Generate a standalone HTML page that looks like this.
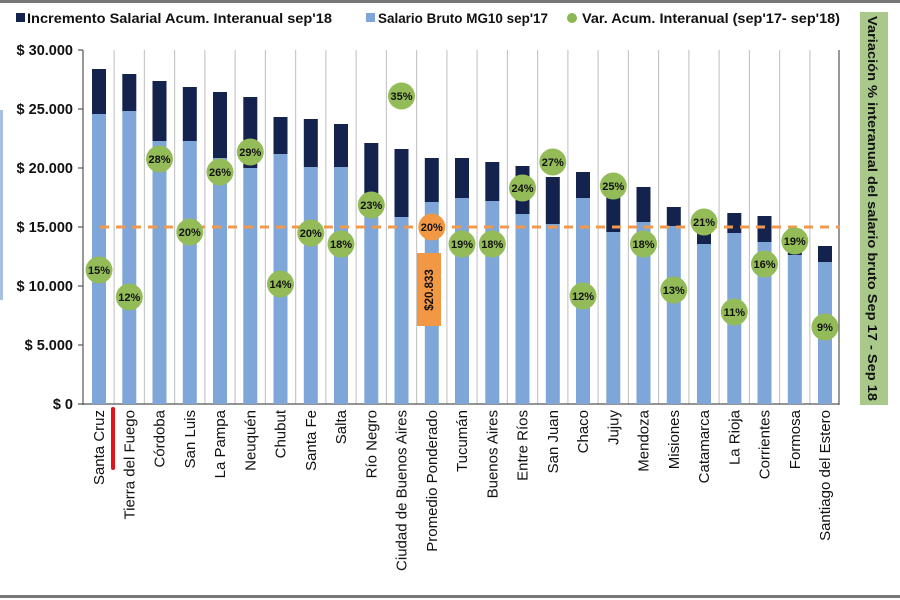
<!DOCTYPE html>
<html><head><meta charset="utf-8"><style>
html,body{margin:0;padding:0;background:#fff;}
svg{display:block;font-family:"Liberation Sans",Arial,sans-serif;}
</style></head><body>
<svg width="900" height="600" viewBox="0 0 900 600" xmlns="http://www.w3.org/2000/svg">
<rect x="0" y="0" width="900" height="600" fill="#fff"/>
<rect x="0" y="0" width="900" height="3" fill="#777"/>
<rect x="0" y="595" width="900" height="3" fill="#777"/>
<rect x="0" y="110" width="3" height="190" fill="#a9c1e0"/>
<!-- legend -->
<rect x="16" y="13" width="9" height="9" fill="#14234e"/>
<text x="27" y="23" font-size="13.5" font-weight="bold" fill="#111" textLength="305" lengthAdjust="spacingAndGlyphs">Incremento Salarial Acum. Interanual sep'18</text>
<rect x="366" y="13" width="9" height="9" fill="#7fa6d8"/>
<text x="378" y="23" font-size="13.5" font-weight="bold" fill="#111" textLength="170" lengthAdjust="spacingAndGlyphs">Salario Bruto MG10 sep'17</text>
<circle cx="572" cy="18" r="5" fill="#8db654"/>
<text x="582" y="23" font-size="13.5" font-weight="bold" fill="#111" textLength="258" lengthAdjust="spacingAndGlyphs">Var. Acum. Interanual (sep'17- sep'18)</text>
<!-- right vertical box -->
<rect x="860" y="12" width="28" height="393" fill="#a9c98a"/>
<text transform="translate(868,16) rotate(90)" font-size="13" font-weight="bold" fill="#111" textLength="385" lengthAdjust="spacingAndGlyphs">Variación % interanual del salario bruto Sep 17 - Sep 18</text>
<!-- y axis labels -->
<g font-size="14.5" fill="#111" text-anchor="end" font-weight="bold">
<text x="73" y="55">$ 30.000</text>
<text x="73" y="114">$ 25.000</text>
<text x="73" y="173">$ 20.000</text>
<text x="73" y="232">$ 15.000</text>
<text x="73" y="291">$ 10.000</text>
<text x="73" y="350">$ 5.000</text>
<text x="73" y="409">$ 0</text>
</g>
<!-- grid -->
<g stroke="#c8c8c8" stroke-width="1.2">
<line x1="114.1" y1="50" x2="114.1" y2="404"/><line x1="144.4" y1="50" x2="144.4" y2="404"/><line x1="174.6" y1="50" x2="174.6" y2="404"/><line x1="204.9" y1="50" x2="204.9" y2="404"/><line x1="235.1" y1="50" x2="235.1" y2="404"/><line x1="265.4" y1="50" x2="265.4" y2="404"/><line x1="295.6" y1="50" x2="295.6" y2="404"/><line x1="325.9" y1="50" x2="325.9" y2="404"/><line x1="356.1" y1="50" x2="356.1" y2="404"/><line x1="386.4" y1="50" x2="386.4" y2="404"/><line x1="416.6" y1="50" x2="416.6" y2="404"/><line x1="446.9" y1="50" x2="446.9" y2="404"/><line x1="477.1" y1="50" x2="477.1" y2="404"/><line x1="507.4" y1="50" x2="507.4" y2="404"/><line x1="537.6" y1="50" x2="537.6" y2="404"/><line x1="567.9" y1="50" x2="567.9" y2="404"/><line x1="598.1" y1="50" x2="598.1" y2="404"/><line x1="628.4" y1="50" x2="628.4" y2="404"/><line x1="658.6" y1="50" x2="658.6" y2="404"/><line x1="688.9" y1="50" x2="688.9" y2="404"/><line x1="719.1" y1="50" x2="719.1" y2="404"/><line x1="749.4" y1="50" x2="749.4" y2="404"/><line x1="779.6" y1="50" x2="779.6" y2="404"/><line x1="809.9" y1="50" x2="809.9" y2="404"/>
</g>
<g stroke="#555" stroke-width="1.2">
<line x1="83" y1="50" x2="83" y2="405"/>
<line x1="839" y1="50" x2="839" y2="405"/>
<line x1="78" y1="404" x2="839" y2="404"/>
<line x1="78" y1="345" x2="83" y2="345"/><line x1="78" y1="286" x2="83" y2="286"/><line x1="78" y1="227" x2="83" y2="227"/><line x1="78" y1="168" x2="83" y2="168"/><line x1="78" y1="109" x2="83" y2="109"/><line x1="78" y1="50" x2="83" y2="50"/>
</g>
<!-- light bars -->
<g fill="#7fa6d8">
<rect x="92" y="114" width="14" height="290"/>
<rect x="122.3" y="111" width="14" height="293"/>
<rect x="152.5" y="141" width="14" height="263"/>
<rect x="182.8" y="141" width="14" height="263"/>
<rect x="213" y="158" width="14" height="246"/>
<rect x="243.3" y="168" width="14" height="236"/>
<rect x="273.5" y="154" width="14" height="250"/>
<rect x="303.8" y="167" width="14" height="237"/>
<rect x="334" y="167" width="14" height="237"/>
<rect x="364.3" y="195" width="14" height="209"/>
<rect x="394.5" y="217" width="14" height="187"/>
<rect x="424.8" y="202" width="14" height="202"/>
<rect x="455" y="198" width="14" height="206"/>
<rect x="485.3" y="201" width="14" height="203"/>
<rect x="515.5" y="214" width="14" height="190"/>
<rect x="545.8" y="224" width="14" height="180"/>
<rect x="576" y="198" width="14" height="206"/>
<rect x="606.3" y="232" width="14" height="172"/>
<rect x="636.5" y="222" width="14" height="182"/>
<rect x="666.8" y="226" width="14" height="178"/>
<rect x="697" y="244" width="14" height="160"/>
<rect x="727.3" y="233" width="14" height="171"/>
<rect x="757.5" y="242" width="14" height="162"/>
<rect x="787.8" y="255" width="14" height="149"/>
<rect x="818" y="262" width="14" height="142"/>
</g>
<!-- dark bars -->
<g fill="#14234e">
<rect x="92" y="69" width="14" height="45"/>
<rect x="122.3" y="74" width="14" height="37"/>
<rect x="152.5" y="81" width="14" height="60"/>
<rect x="182.8" y="87" width="14" height="54"/>
<rect x="213" y="92" width="14" height="66"/>
<rect x="243.3" y="97" width="14" height="71"/>
<rect x="273.5" y="117" width="14" height="37"/>
<rect x="303.8" y="119" width="14" height="48"/>
<rect x="334" y="124" width="14" height="43"/>
<rect x="364.3" y="143" width="14" height="52"/>
<rect x="394.5" y="149" width="14" height="68"/>
<rect x="424.8" y="158" width="14" height="44"/>
<rect x="455" y="158" width="14" height="40"/>
<rect x="485.3" y="162" width="14" height="39"/>
<rect x="515.5" y="166" width="14" height="48"/>
<rect x="545.8" y="177" width="14" height="47"/>
<rect x="576" y="172" width="14" height="26"/>
<rect x="606.3" y="180" width="14" height="52"/>
<rect x="636.5" y="187" width="14" height="35"/>
<rect x="666.8" y="207" width="14" height="19"/>
<rect x="697" y="213" width="14" height="31"/>
<rect x="727.3" y="213" width="14" height="20"/>
<rect x="757.5" y="216" width="14" height="26"/>
<rect x="787.8" y="229" width="14" height="26"/>
<rect x="818" y="246" width="14" height="16"/>
</g>
<!-- dashed line -->
<line x1="100" y1="227" x2="840" y2="227" stroke="#f09a50" stroke-width="3" stroke-dasharray="9,7"/>
<!-- orange rect -->
<rect x="417" y="253" width="24" height="73" fill="#f29845"/>
<text transform="translate(433,290) rotate(-90)" font-size="11.5" font-weight="bold" fill="#111" text-anchor="middle">$20.833</text>
<!-- bubbles -->
<g fill="#93bb58">
<circle cx="99" cy="270" r="13.5"/><circle cx="129.3" cy="297" r="13.5"/><circle cx="159.5" cy="159" r="13.5"/><circle cx="189.8" cy="232" r="13.5"/><circle cx="220" cy="172" r="13.5"/><circle cx="250.3" cy="152" r="13.5"/><circle cx="280.5" cy="284" r="13.5"/><circle cx="310.8" cy="233" r="13.5"/><circle cx="341" cy="244" r="13.5"/><circle cx="371.3" cy="205" r="13.5"/><circle cx="401.5" cy="96" r="13.5"/><circle cx="462" cy="244" r="13.5"/><circle cx="492.3" cy="244" r="13.5"/><circle cx="522.5" cy="188" r="13.5"/><circle cx="552.8" cy="162" r="13.5"/><circle cx="583" cy="296" r="13.5"/><circle cx="613.3" cy="186" r="13.5"/><circle cx="643.5" cy="244" r="13.5"/><circle cx="673.8" cy="290" r="13.5"/><circle cx="704" cy="222" r="13.5"/><circle cx="734.3" cy="312" r="13.5"/><circle cx="764.5" cy="264" r="13.5"/><circle cx="794.8" cy="241" r="13.5"/><circle cx="825" cy="327" r="13.5"/>
</g>
<circle cx="431.8" cy="227" r="13.5" fill="#f29845"/>
<g font-size="11" font-weight="bold" fill="#111" text-anchor="middle">
<text x="99" y="274">15%</text><text x="129.3" y="301">12%</text><text x="159.5" y="163">28%</text><text x="189.8" y="236">20%</text><text x="220" y="176">26%</text><text x="250.3" y="156">29%</text><text x="280.5" y="288">14%</text><text x="310.8" y="237">20%</text><text x="341" y="248">18%</text><text x="371.3" y="209">23%</text><text x="401.5" y="100">35%</text><text x="431.8" y="231">20%</text><text x="462" y="248">19%</text><text x="492.3" y="248">18%</text><text x="522.5" y="192">24%</text><text x="552.8" y="166">27%</text><text x="583" y="300">12%</text><text x="613.3" y="190">25%</text><text x="643.5" y="248">18%</text><text x="673.8" y="294">13%</text><text x="704" y="226">21%</text><text x="734.3" y="316">11%</text><text x="764.5" y="268">16%</text><text x="794.8" y="245">19%</text><text x="825" y="331">9%</text>
</g>
<!-- red marker -->
<rect x="111" y="407" width="4" height="63" rx="2" fill="#e0121a"/>
<!-- x labels -->
<g font-size="15" fill="#111" text-anchor="end">
<text transform="translate(104,410) rotate(-90)">Santa Cruz</text>
<text transform="translate(134.3,410) rotate(-90)">Tierra del Fuego</text>
<text transform="translate(164.5,410) rotate(-90)">Córdoba</text>
<text transform="translate(194.8,410) rotate(-90)">San Luis</text>
<text transform="translate(225,410) rotate(-90)">La Pampa</text>
<text transform="translate(255.3,410) rotate(-90)">Neuquén</text>
<text transform="translate(285.5,410) rotate(-90)">Chubut</text>
<text transform="translate(315.8,410) rotate(-90)">Santa Fe</text>
<text transform="translate(346,410) rotate(-90)">Salta</text>
<text transform="translate(376.3,410) rotate(-90)">Río Negro</text>
<text transform="translate(406.5,410) rotate(-90)">Ciudad de Buenos Aires</text>
<text transform="translate(436.8,410) rotate(-90)">Promedio Ponderado</text>
<text transform="translate(467,410) rotate(-90)">Tucumán</text>
<text transform="translate(497.3,410) rotate(-90)">Buenos Aires</text>
<text transform="translate(527.5,410) rotate(-90)">Entre Ríos</text>
<text transform="translate(557.8,410) rotate(-90)">San Juan</text>
<text transform="translate(588,410) rotate(-90)">Chaco</text>
<text transform="translate(618.3,410) rotate(-90)">Jujuy</text>
<text transform="translate(648.5,410) rotate(-90)">Mendoza</text>
<text transform="translate(678.8,410) rotate(-90)">Misiones</text>
<text transform="translate(709,410) rotate(-90)">Catamarca</text>
<text transform="translate(739.3,410) rotate(-90)">La Rioja</text>
<text transform="translate(769.5,410) rotate(-90)">Corrientes</text>
<text transform="translate(799.8,410) rotate(-90)">Formosa</text>
<text transform="translate(830,410) rotate(-90)">Santiago del Estero</text>
</g>
</svg>
</body></html>
